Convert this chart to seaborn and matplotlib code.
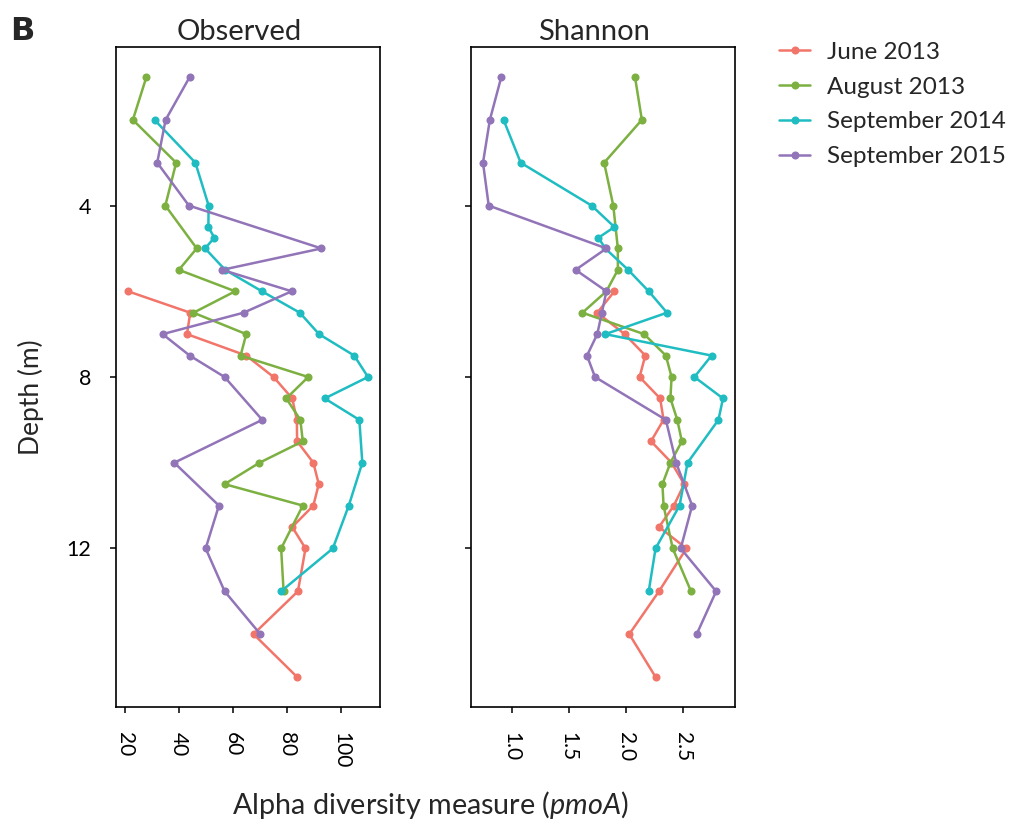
import numpy as np
import pandas as pd
import matplotlib
matplotlib.use("Agg")
import matplotlib.pyplot as plt
import matplotlib.transforms as mtransforms
import seaborn as sns

# ---------------- data ----------------
series_names = ["June 2013", "August 2013", "September 2014", "September 2015"]
series_colors = ["#F2756A", "#7CB040", "#1FBDC2", "#9274B8"]

depth_june = [6, 6.5, 7, 7.5, 8, 8.5, 9, 9.5, 10, 10.5, 11, 11.5, 12, 13, 14, 15]
obs_june = [21.1, 44.1, 42.9, 64.8, 74.9, 81.8, 83.5, 83.6, 89.6, 91.6, 89.6, 81.8, 86.7, 83.9, 67.5, 83.6]
shan_june = [1.90, 1.75, 1.99, 2.17, 2.12, 2.30, 2.33, 2.22, 2.40, 2.51, 2.42, 2.29, 2.53, 2.29, 2.03, 2.26]

depth_aug = [1, 2, 3, 4, 5, 5.5, 6, 6.5, 7, 7.5, 8, 8.5, 9, 9.5, 10, 10.5, 11, 12, 13]
obs_aug = [27.9, 22.9, 38.9, 34.9, 46.5, 39.9, 60.7, 45.3, 64.8, 62.7, 87.7, 79.6, 84.8, 85.7, 69.7, 56.8, 85.7, 77.7, 78.6]
shan_aug = [2.08, 2.14, 1.81, 1.89, 1.93, 1.93, 1.83, 1.62, 2.16, 2.35, 2.40, 2.39, 2.45, 2.49, 2.39, 2.32, 2.33, 2.41, 2.57]

depth_sep14 = [2, 3, 4, 4.5, 4.75, 5, 5.5, 6, 6.5, 7, 7.5, 8, 8.5, 9, 10, 11, 12, 13]
obs_sep14 = [30.9, 46.0, 50.9, 50.8, 53.0, 49.6, 57.0, 70.6, 84.6, 91.7, 104.7, 109.8, 93.8, 106.6, 107.7, 102.7, 96.8, 77.7]
shan_sep14 = [0.93, 1.08, 1.70, 1.90, 1.76, 1.82, 2.02, 2.20, 2.36, 1.82, 2.75, 2.60, 2.85, 2.81, 2.54, 2.47, 2.26, 2.20]

depth_sep15 = [1, 2, 3, 4, 5, 5.5, 6, 6.5, 7, 7.5, 8, 9, 10, 11, 12, 13, 14]
obs_sep15 = [43.9, 35.0, 31.9, 43.6, 92.6, 55.9, 81.6, 63.8, 33.9, 43.9, 56.8, 70.7, 38.2, 54.7, 49.8, 56.8, 70.0]
shan_sep15 = [0.91, 0.81, 0.75, 0.80, 1.83, 1.56, 1.83, 1.79, 1.75, 1.66, 1.73, 2.35, 2.44, 2.58, 2.48, 2.79, 2.62]

panel_titles = ["Observed", "Shannon"]
y_ticks = [4, 8, 12]
obs_ticks = [20, 40, 60, 80, 100]
shan_ticks = [1.0, 1.5, 2.0, 2.5]

# ---------------- build table ----------------
rows = []
for name, d, o, s in [
    ("June 2013", depth_june, obs_june, shan_june),
    ("August 2013", depth_aug, obs_aug, shan_aug),
    ("September 2014", depth_sep14, obs_sep14, shan_sep14),
    ("September 2015", depth_sep15, obs_sep15, shan_sep15),
]:
    for dd, oo in zip(d, o):
        rows.append({"date": name, "depth": dd, "value": oo, "measure": "Observed"})
    for dd, ss in zip(d, s):
        rows.append({"date": name, "depth": dd, "value": ss, "measure": "Shannon"})
df = pd.DataFrame(rows)

# ---------------- style ----------------
sns.set_theme(style="white")
plt.rcParams["font.family"] = ["Lato", "DejaVu Sans"]
plt.rcParams["mathtext.fontset"] = "custom"
plt.rcParams["mathtext.rm"] = "Lato"
plt.rcParams["mathtext.it"] = "Lato:italic"

W, H = 1011, 826
fig = plt.figure(figsize=(W / 100, H / 100), dpi=100)

def rect(x0, y0, x1, y1):
    return [x0 / W, 1 - y1 / H, (x1 - x0) / W, (y1 - y0) / H]

ax1 = fig.add_axes(rect(116, 47, 380, 707))
ax2 = fig.add_axes(rect(471, 47, 735, 707))

palette = dict(zip(series_names, series_colors))
shift = mtransforms.ScaledTranslation(-4 / 100, 0, fig.dpi_scale_trans)

for ax, measure, ticks, fmt in [(ax1, panel_titles[0], obs_ticks, "{:g}"),
                                 (ax2, panel_titles[1], shan_ticks, "{:.1f}")]:
    sub = df[df["measure"] == measure]
    sns.lineplot(data=sub, x="value", y="depth", hue="date", hue_order=series_names,
                 palette=palette, sort=False, estimator=None, marker="o",
                 markersize=5.8, markeredgewidth=0, linewidth=1.8, ax=ax, legend=(ax is ax1))
    vmin, vmax = sub["value"].min(), sub["value"].max()
    pad = 0.05 * (vmax - vmin)
    ax.set_xlim(vmin - pad, vmax + pad)
    ax.set_ylim(15.7, 0.3)
    ax.set_xticks(ticks)
    ax.set_xticklabels([fmt.format(t) for t in ticks], rotation=270, fontsize=15,
                       va="top", ha="center")
    for lab in ax.get_xticklabels():
        lab.set_transform(lab.get_transform() + shift)
    ax.set_yticks(y_ticks)
    ax.set_xlabel("")
    ax.set_ylabel("")
    ax.set_title(measure, fontsize=21, pad=5, x=0.5 - 9 / 264)
    for sp in ax.spines.values():
        sp.set_visible(True)
        sp.set_color("black")
        sp.set_linewidth(1.2)
    ax.tick_params(axis="both", which="both", direction="out", length=4, width=1.1,
                   color="black", labelcolor="black", bottom=True, left=True)
    ax.grid(False)

ax1.set_yticklabels([str(t) for t in y_ticks], fontsize=15.5)
ax2.set_yticklabels([])
ax1.tick_params(axis="y", pad=14)
ax1.tick_params(axis="x", pad=14)
ax2.tick_params(axis="x", pad=14)

handles, labels = ax1.get_legend_handles_labels()
ax1.get_legend().remove()
fig.legend(handles, labels, loc="upper left", bbox_to_anchor=(769 / W, 1 - 32 / H),
           frameon=False, fontsize=17.5, handlelength=1.3, handletextpad=0.7,
           labelspacing=0.57, borderaxespad=0)

fig.text(430 / W, 1 - 805 / H, r"Alpha diversity measure ($\mathit{pmoA}$)",
         ha="center", va="center", fontsize=20.7)
fig.text(31 / W, 1 - 397 / H, "Depth (m)", ha="center", va="center",
         rotation=90, fontsize=19)
fig.text(10 / W, 1 - 31 / H, "B", ha="left", va="center", fontsize=23,
         fontweight="bold", family="DejaVu Sans")

fig.savefig("out.png", dpi=100)
